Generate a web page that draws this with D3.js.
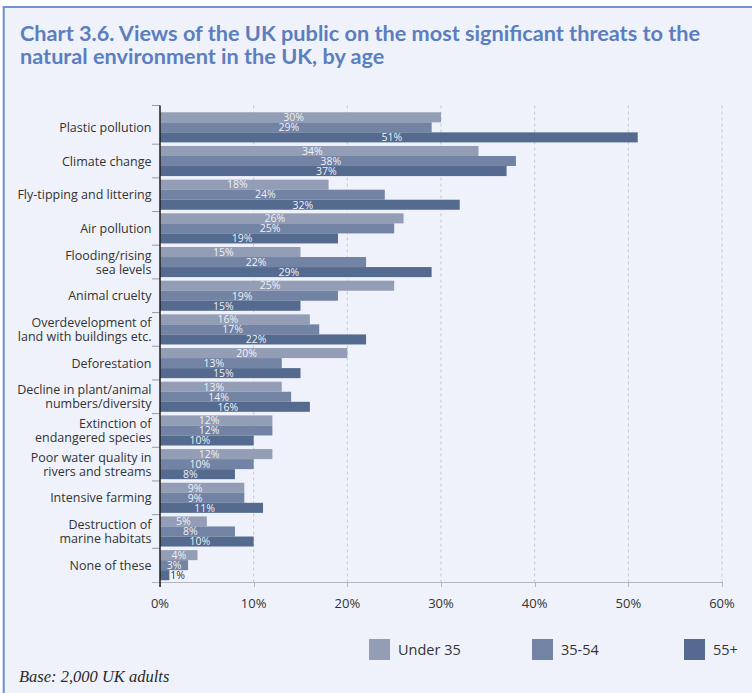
<!DOCTYPE html>
<html>
<head>
<meta charset="utf-8">
<script src="https://cdn.jsdelivr.net/npm/d3@7"></script>
<style>
  html, body { margin: 0; padding: 0; background: #ffffff; }
  svg { display: block; }
</style>
</head>
<body>
<svg id="chart" width="752" height="693"></svg>
<script>
// Threats to the natural environment, share of respondents by age group (%)
const categories = [
  "Plastic pollution",
  "Climate change",
  "Fly-tipping and littering",
  "Air pollution",
  "Flooding/rising\nsea levels",
  "Animal cruelty",
  "Overdevelopment of\nland with buildings etc.",
  "Deforestation",
  "Decline in plant/animal\nnumbers/diversity",
  "Extinction of\nendangered species",
  "Poor water quality in\nrivers and streams",
  "Intensive farming",
  "Destruction of\nmarine habitats",
  "None of these"
];
const seriesNames = ["Under 35", "35-54", "55+"];
const under35   = [30, 34, 18, 26, 15, 25, 16, 20, 13, 12, 12, 9, 5, 4];
const age35to54 = [29, 38, 24, 25, 22, 19, 17, 13, 14, 12, 10, 9, 8, 3];
const age55plus = [51, 37, 32, 19, 29, 15, 22, 15, 16, 10, 8, 11, 10, 1];
const xTicks = [0, 10, 20, 30, 40, 50, 60];
const seriesColors = ["#939db5", "#7383a4", "#546a8f"];

const titleLines = [
  "Chart 3.6. Views of the UK public on the most significant threats to the",
  "natural environment in the UK, by age"
];
const baseNote = "Base: 2,000 UK adults";

const seriesValues = [under35, age35to54, age55plus];
const rows = categories.map((c, i) => ({
  category: c,
  values: seriesNames.map((s, k) => ({ series: s, value: seriesValues[k][i] }))
}));

const svg = d3.select("#chart");
const W = 752, H = 693;

// Panel with blue frame on top and left
svg.append("rect").attr("x", 4).attr("y", 7).attr("width", W - 4).attr("height", H - 7)
  .attr("fill", "#eff2fa");
svg.append("line").attr("x1", 3.7).attr("x2", 3.7).attr("y1", 6).attr("y2", H)
  .attr("stroke", "#6d8ed0").attr("stroke-width", 2);
svg.append("line").attr("x1", 3).attr("x2", W).attr("y1", 7).attr("y2", 7)
  .attr("stroke", "#7191d0").attr("stroke-width", 2);

// Title
const titleG = svg.append("g")
  .attr("font-family", "Lato, 'Open Sans', sans-serif")
  .attr("font-weight", 700)
  .attr("font-size", 20)
  .attr("fill", "#5b7ec0");
const t1 = titleG.append("text").attr("x", 20).attr("y", 41).text(titleLines[0]);
const t2 = titleG.append("text").attr("x", 20).attr("y", 64).text(titleLines[1]);
const w1 = t1.node().getComputedTextLength();
const w2 = t2.node().getComputedTextLength();
const squeeze = 680 / w1;
t1.attr("textLength", 680).attr("lengthAdjust", "spacingAndGlyphs");
t2.attr("textLength", w2 * squeeze).attr("lengthAdjust", "spacingAndGlyphs");

// Plot geometry
const plotLeft = 160, plotRight = 722;
const plotTop = 105.5, axisY = 582;

const x = d3.scaleLinear().domain([0, 60]).range([plotLeft, plotRight]);
const y = d3.scaleBand().domain(categories).range([110.5, axisY])
  .paddingInner(0.106).paddingOuter(0.053);
const ySub = d3.scaleBand().domain(seriesNames).range([0, y.bandwidth()]);
const gapHalf = (y.step() - y.bandwidth()) / 2;

// Dashed vertical gridlines
svg.append("g").selectAll("line")
  .data(xTicks.filter(d => d > 0))
  .join("line")
  .attr("x1", d => x(d)).attr("x2", d => x(d))
  .attr("y1", plotTop).attr("y2", axisY)
  .attr("stroke", "#c4c7cf").attr("stroke-width", 1)
  .attr("stroke-dasharray", "3,3");

// Horizontal (value) axis line with small downward ticks
svg.append("line")
  .attr("x1", plotLeft - 8).attr("x2", plotRight)
  .attr("y1", axisY + 0.5).attr("y2", axisY + 0.5)
  .attr("stroke", "#b4b6bc").attr("stroke-width", 1);
svg.append("g").selectAll("line")
  .data(xTicks)
  .join("line")
  .attr("x1", d => Math.round(x(d)) + 0.5).attr("x2", d => Math.round(x(d)) + 0.5)
  .attr("y1", axisY).attr("y2", axisY + 5)
  .attr("stroke", "#b4b6bc").attr("stroke-width", 1);

// Value axis labels
svg.append("g")
  .attr("font-family", "'Open Sans', sans-serif")
  .attr("font-size", 13)
  .attr("fill", "#333333")
  .attr("text-anchor", "middle")
  .selectAll("text")
  .data(xTicks)
  .join("text")
  .attr("x", d => x(d))
  .attr("y", 608)
  .text(d => d + "%");

// Category tick marks on the left of the axis
const boundaries = [plotTop].concat(categories.slice(1).map(c => y(c) - gapHalf));
svg.append("g").selectAll("line")
  .data(boundaries)
  .join("line")
  .attr("x1", plotLeft - 8).attr("x2", plotLeft)
  .attr("y1", d => d).attr("y2", d => d)
  .attr("stroke", "#9a9ca3").attr("stroke-width", 1);

// Bars
const groups = svg.append("g").selectAll("g")
  .data(rows)
  .join("g")
  .attr("transform", d => `translate(0,${y(d.category)})`);

groups.selectAll("rect")
  .data(d => d.values)
  .join("rect")
  .attr("x", x(0))
  .attr("y", d => ySub(d.series))
  .attr("width", d => x(d.value) - x(0))
  .attr("height", ySub.bandwidth())
  .attr("fill", (d, i) => seriesColors[i]);

// Value labels inside bars (tiny bars get an outside label)
groups.selectAll("text")
  .data(d => d.values)
  .join("text")
  .attr("font-family", "'Open Sans', sans-serif")
  .attr("font-size", 10.5)
  .attr("y", d => ySub(d.series) + ySub.bandwidth() / 2)
  .attr("dy", "0.36em")
  .attr("fill", d => d.value < 2 ? "#333333" : "#eef1f7")
  .attr("text-anchor", d => d.value < 2 ? "start" : "middle")
  .attr("x", d => {
    if (d.value < 2) return x(d.value) + 1;
    const mid = (x(0) + x(d.value)) / 2;
    return d.value >= 8 ? mid - 7 : mid;
  })
  .text(d => d.value + "%");

// Vertical category axis line
svg.append("line")
  .attr("x1", plotLeft).attr("x2", plotLeft)
  .attr("y1", plotTop).attr("y2", axisY + 5)
  .attr("stroke", "#1e1e1e").attr("stroke-width", 1.5);

// Category labels
const catG = svg.append("g")
  .attr("font-family", "'Open Sans', sans-serif")
  .attr("font-size", 12.5)
  .attr("fill", "#333333")
  .attr("text-anchor", "end");
categories.forEach(c => {
  const lines = c.split("\n");
  const mid = y(c) + y.bandwidth() / 2;
  const lh = 14;
  lines.forEach((ln, j) => {
    catG.append("text")
      .attr("x", 151.5)
      .attr("y", mid + (j - (lines.length - 1) / 2) * lh)
      .attr("dy", "0.36em")
      .text(ln);
  });
});

// Legend
const legendX = [369, 532, 684];
const legend = svg.append("g").selectAll("g")
  .data(seriesNames)
  .join("g")
  .attr("transform", (d, i) => `translate(${legendX[i]},639)`);
legend.append("rect")
  .attr("width", 21).attr("height", 21)
  .attr("fill", (d, i) => seriesColors[i]);
legend.append("text")
  .attr("x", 29).attr("y", 10.5).attr("dy", "0.36em")
  .attr("font-family", "'Open Sans', sans-serif")
  .attr("font-size", 14.5)
  .attr("fill", "#333333")
  .text(d => d);

// Base note
svg.append("text")
  .attr("x", 19).attr("y", 682)
  .attr("font-family", "'Liberation Serif', 'DejaVu Serif', serif")
  .attr("font-style", "italic")
  .attr("font-size", 16.5)
  .attr("fill", "#2a2a2a")
  .text(baseNote);
</script>
</body>
</html>
